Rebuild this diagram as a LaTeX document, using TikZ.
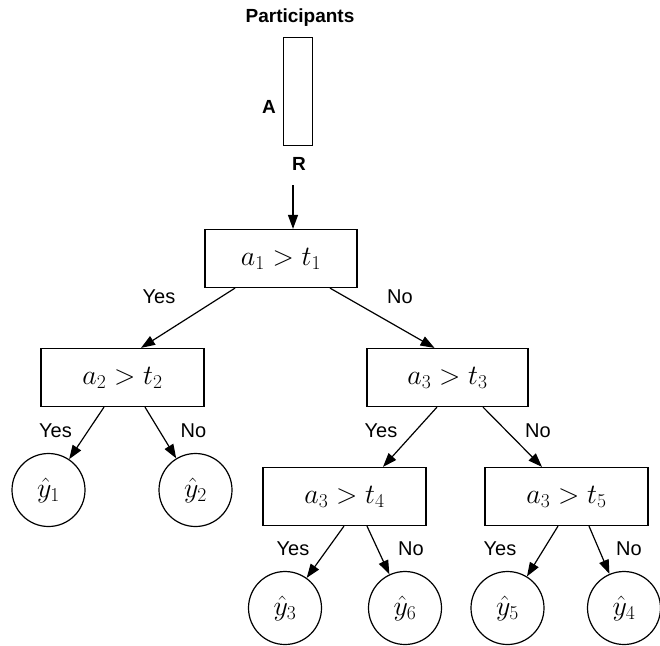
\RequirePackage{fix-cm}
\documentclass[tikz,border=0pt]{standalone}
\usepackage{fontspec}
\setsansfont{Liberation Sans}
\usetikzlibrary{arrows.meta,calc}
\tikzset{
  box/.style={draw,line width=1.2pt,minimum width=#1,minimum height=58pt,inner sep=0pt,font=\fontsize{28}{32}\selectfont},
  leaf/.style={draw,circle,line width=1.2pt,minimum size=73pt,inner sep=0pt,font=\fontsize{28}{32}\selectfont},
  lbl/.style={font=\sffamily\fontsize{20}{24}\selectfont,inner sep=0pt},
  blbl/.style={font=\sffamily\bfseries\fontsize{19}{23}\selectfont,inner sep=0pt},
  arr/.style={line width=1.2pt,-{Triangle[length=14pt,width=10pt]}}
}
\begin{document}
\begin{tikzpicture}[x=1pt,y=-1pt]
\useasboundingbox (0,0) rectangle (660,645);
% participants bar
\node[blbl] (ptitle) at (300,18) {Participants};
\node[draw,line width=1.2pt,minimum width=29pt,minimum height=108pt,inner sep=0pt] (bar) at (298,91.5) {};
\node[blbl] (labA) at (269,106.5) {A};
\node[blbl] (labR) at (299,164) {R};
\coordinate (start) at (293,185);
% decision nodes
\node[box=152pt] (root) at (281,258.5) {$a_1 > t_1$};
\node[box=163pt] (n2) at (122.5,377.5) {$a_2 > t_2$};
\node[box=161pt] (n3) at (447.5,377.5) {$a_3 > t_3$};
\node[box=163pt] (n4) at (344.5,496.5) {$a_3 > t_4$};
\node[box=163pt] (n5) at (566.5,496.5) {$a_3 > t_5$};
% leaves
\node[leaf] (y1) at (48.5,490) {$\hat{y}_1$};
\node[leaf] (y2) at (195.5,490) {$\hat{y}_2$};
\node[leaf] (y3) at (285,608) {$\hat{y}_3$};
\node[leaf] (y6) at (405,608) {$\hat{y}_6$};
\node[leaf] (y5) at (507.5,608) {$\hat{y}_5$};
\node[leaf] (y4) at (624,608) {$\hat{y}_4$};
% edges
\draw[arr] (start) -- (start |- root.north);
\draw[arr] ($(root.south)+(-46,0)$) -- ($(n2.north)+(18.5,0)$);
\draw[arr] ($(root.south)+(49,0)$) -- ($(n3.north)+(-13,0)$);
\draw[arr] ($(n2.south)+(-18.5,0)$) -- (y1);
\draw[arr] ($(n2.south)+(22.5,0)$) -- (y2);
\draw[arr] ($(n3.south)+(-10.5,0)$) -- ($(n4.north)+(38.5,0)$);
\draw[arr] ($(n3.south)+(35.5,0)$) -- ($(n5.north)+(-24.5,0)$);
\draw[arr] ($(n4.south)+(-0.5,0)$) -- (y3);
\draw[arr] ($(n4.south)+(22.5,0)$) -- (y6);
\draw[arr] ($(n5.south)+(-8.5,0)$) -- (y5);
\draw[arr] ($(n5.south)+(22.5,0)$) -- (y4);
% labels
\node[lbl] (l1) at (159,297) {Yes};
\node[lbl] (l2) at (400,297) {No};
\node[lbl] (l3) at (55.5,431) {Yes};
\node[lbl] (l4) at (193.5,431) {No};
\node[lbl] (l5) at (381,431) {Yes};
\node[lbl] (l6) at (538,431) {No};
\node[lbl] (l7) at (293,549) {Yes};
\node[lbl] (l8) at (411,549) {No};
\node[lbl] (l9) at (500,549) {Yes};
\node[lbl] (l10) at (629,549) {No};
\end{tikzpicture}
\end{document}
